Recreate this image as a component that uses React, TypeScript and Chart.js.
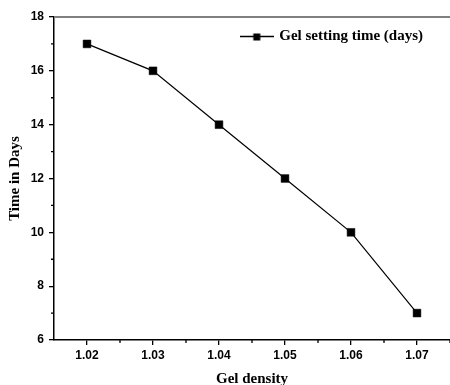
import React, { useEffect, useRef } from 'react';
import { Chart, registerables } from 'chart.js';

Chart.register(...registerables);

const densities = [1.02, 1.03, 1.04, 1.05, 1.06, 1.07];
const settingDays = [17, 16, 14, 12, 10, 7];
const xMajorTicks = [1.02, 1.03, 1.04, 1.05, 1.06, 1.07];
const xMinorTicks = [1.025, 1.035, 1.045, 1.055, 1.065, 1.075];
const yMajorTicks = [6, 8, 10, 12, 14, 16, 18];
const yMinorTicks = [7, 9, 11, 13, 15, 17];
const xRange = [1.015, 1.075];
const yRange = [6, 18];
const seriesLabel = 'Gel setting time (days)';
const xTitle = 'Gel density';
const yTitle = 'Time in Days';

const SERIF = '"Times New Roman", "Liberation Serif", serif';
const SANS = 'Arial, "Liberation Sans", sans-serif';

function makeLegendSymbol(): HTMLCanvasElement {
  const c = document.createElement('canvas');
  c.width = 34;
  c.height = 9;
  const g = c.getContext('2d')!;
  g.strokeStyle = '#000';
  g.lineWidth = 1.3;
  g.beginPath();
  g.moveTo(0, 4.5);
  g.lineTo(34, 4.5);
  g.stroke();
  g.fillStyle = '#000';
  g.fillRect(13.5, 1.5, 7, 7);
  return c;
}

const decorPlugin = {
  id: 'decor',
  afterLayout(chart: any) {
    const lg = chart.legend;
    const ca = chart.chartArea;
    if (lg) {
      const pad = lg.options.labels.padding;
      const hb = lg.legendHitBoxes && lg.legendHitBoxes[0];
      const itemW = hb ? hb.width : 180;
      const textRight = ca.right - 27;
      lg.left = textRight - itemW - pad;
      lg.right = ca.right;
      lg.top = ca.top;
      lg.bottom = ca.bottom;
    }
  },
  afterDraw(chart: any) {
    const { ctx, chartArea: ca, scales } = chart;
    ctx.save();
    ctx.strokeStyle = '#808080';
    ctx.lineWidth = 2;
    ctx.beginPath();
    ctx.moveTo(ca.left, ca.top);
    ctx.lineTo(ca.right, ca.top);
    ctx.stroke();
    ctx.strokeStyle = '#000';
    ctx.lineWidth = 1.3;
    ctx.beginPath();
    yMinorTicks.forEach((v) => {
      const y = scales.y.getPixelForValue(v);
      ctx.moveTo(ca.left - 3, y);
      ctx.lineTo(ca.left, y);
    });
    xMinorTicks.forEach((v) => {
      const x = scales.x.getPixelForValue(v);
      ctx.moveTo(x, ca.bottom);
      ctx.lineTo(x, ca.bottom + 3);
    });
    ctx.stroke();
    ctx.restore();
  },
};

export default function App() {
  const canvasRef = useRef<HTMLCanvasElement>(null);

  useEffect(() => {
    document.body.style.margin = '0';
    const canvas = canvasRef.current;
    if (!canvas) return;
    const symbol = makeLegendSymbol();
    const chart = new Chart(canvas, {
      type: 'line',
      data: {
        datasets: [
          {
            label: seriesLabel,
            data: densities.map((d, i) => ({ x: d, y: settingDays[i] })),
            borderColor: '#000',
            backgroundColor: '#000',
            borderWidth: 1.2,
            pointStyle: 'rect',
            pointRadius: 5.5,
            pointBackgroundColor: '#000',
            pointBorderColor: '#000',
            pointBorderWidth: 0.5,
            tension: 0,
          },
        ],
      },
      options: {
        responsive: false,
        animation: false,
        layout: { autoPadding: false, padding: { top: 17, right: 0, bottom: 0, left: 0 } },
        plugins: {
          legend: {
            display: true,
            position: 'chartArea',
            align: 'start',
            labels: {
              usePointStyle: true,
              pointStyle: symbol as any,
              pointStyleWidth: 30,
              padding: 12,
              color: '#000',
              font: { family: SERIF, size: 15, weight: 'bold' },
            },
          },
          tooltip: { enabled: false },
        },
        scales: {
          x: {
            type: 'linear',
            min: xRange[0],
            max: xRange[1],
            afterBuildTicks: (s: any) => {
              s.ticks = xMajorTicks.map((v) => ({ value: v }));
            },
            afterFit: (s: any) => {
              s.height = 45;
            },
            border: { display: true, color: '#000', width: 1.5 },
            grid: {
              display: true,
              drawOnChartArea: false,
              drawTicks: true,
              tickLength: 5,
              tickColor: '#000',
              lineWidth: 1.3,
            },
            ticks: {
              padding: 3,
              color: '#000',
              font: { family: SANS, size: 12, weight: 'bold' },
              maxRotation: 0,
              callback: (v: any) => Number(v).toFixed(2),
            },
            title: {
              display: true,
              text: xTitle,
              color: '#000',
              font: { family: SERIF, size: 15, weight: 'bold' },
              padding: { top: 0, bottom: -3 },
            },
          },
          y: {
            type: 'linear',
            min: yRange[0],
            max: yRange[1],
            afterBuildTicks: (s: any) => {
              s.ticks = yMajorTicks.map((v) => ({ value: v }));
            },
            afterFit: (s: any) => {
              s.width = 54;
            },
            border: { display: true, color: '#000', width: 1.5 },
            grid: {
              display: true,
              drawOnChartArea: false,
              drawTicks: true,
              tickLength: 5,
              tickColor: '#000',
              lineWidth: 1.3,
            },
            ticks: {
              padding: 5,
              color: '#000',
              font: { family: SANS, size: 12, weight: 'bold' },
              callback: (v: any) => String(v),
            },
            title: {
              display: true,
              text: yTitle,
              color: '#000',
              font: { family: SERIF, size: 15, weight: 'bold' },
              padding: { top: 6, bottom: 0 },
            },
          },
        },
      },
      plugins: [decorPlugin],
    });
    return () => chart.destroy();
  }, []);

  return (
    <div style={{ width: 450, height: 385, background: '#fff' }}>
      <canvas ref={canvasRef} width={450} height={385} style={{ display: 'block' }} />
    </div>
  );
}
